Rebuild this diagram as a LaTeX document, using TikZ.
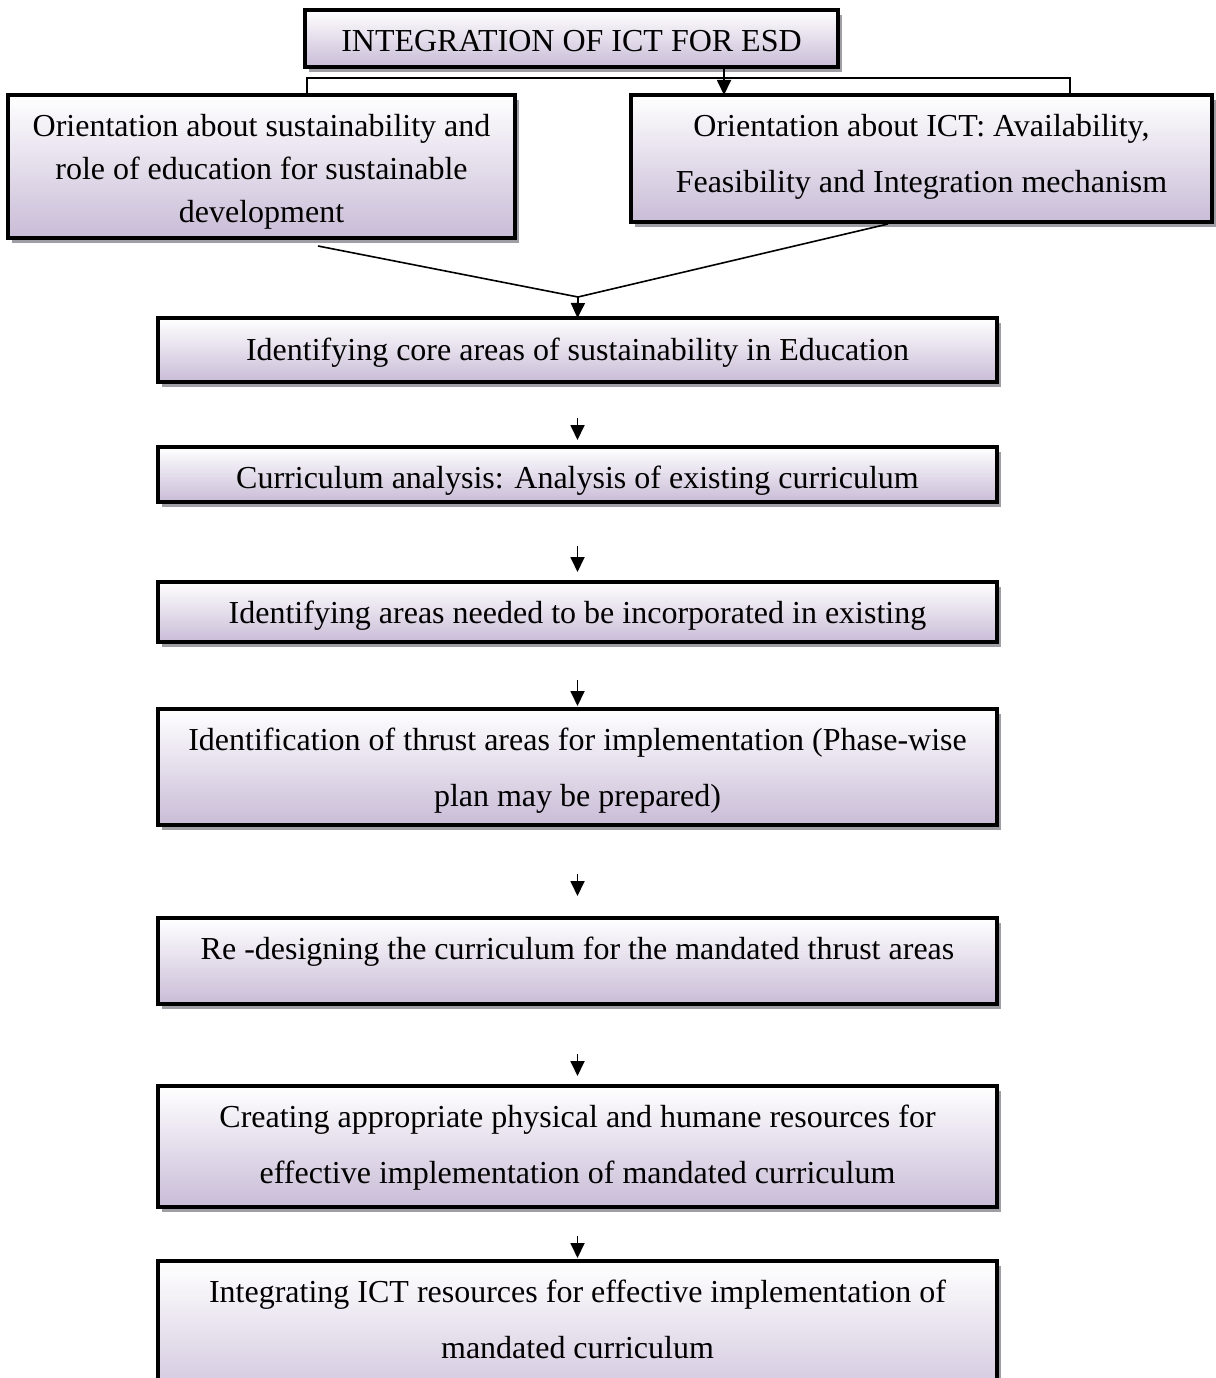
\documentclass[tikz,border=0pt]{standalone}
\usepackage{fontspec}
\setmainfont{Liberation Serif}
\usetikzlibrary{arrows.meta,shadows}
\definecolor{lav}{RGB}{201,188,215}
\definecolor{shd}{RGB}{160,158,165}
\newcommand{\lowr}[2]{\raisebox{-#1}[\height][\depth]{#2}}
\begin{document}
\begin{tikzpicture}[x=1pt,y=-1pt,
  box/.style={draw=black,line width=3.8pt,top color=white,bottom color=lav,
    drop shadow={shadow xshift=3.5pt,shadow yshift=-5pt,fill=shd,opacity=1},
    inner sep=0pt,outer sep=0pt,font=\fontsize{32}{56}\selectfont},
  conn/.style={line width=1.6pt},
  arr/.style={line width=1.8pt,-{Triangle[width=14pt,length=15pt]}}]
\useasboundingbox (0,0) rectangle (1215,1378);

\node[box,minimum width=533pt,minimum height=57pt] (top) at (571.5,38.5) {\lowr{3pt}{INTEGRATION OF ICT FOR ESD}};
\node[box,align=center,minimum width=507pt,minimum height=143pt,font=\fontsize{32}{43}\selectfont] (left) at (261.5,166.5)
  {\lowr{5pt}{Orientation about sustainability and}\\ \lowr{5pt}{role of education for sustainable}\\ \lowr{5pt}{development}};
\node[box,align=center,minimum width=581pt,minimum height=127pt] (right) at (921.5,158.5)
  {\lowr{-2pt}{Orientation about ICT: Availability,}\\ \lowr{-2pt}{Feasibility and Integration mechanism}};

\node[box,minimum width=839pt,minimum height=64pt] (b3) at (577.5,350) {\lowr{3pt}{Identifying core areas of sustainability in Education}};
\node[box,minimum width=839pt,minimum height=55pt] (b4) at (577.5,474.5) {\lowr{6pt}{Curriculum analysis: Analysis of existing curriculum}};
\node[box,minimum width=839pt,minimum height=60pt] (b5) at (577.5,612) {\lowr{4pt}{Identifying areas needed to be incorporated in existing}};
\node[box,align=center,minimum width=839pt,minimum height=116pt] (b6) at (577.5,767)
  {\lowr{4pt}{Identification of thrust areas for implementation (Phase-wise}\\ \lowr{4pt}{plan may be prepared)}};
\node[box,anchor=north,minimum width=839pt,text height=41pt,text depth=45pt] (b7) at (577.5,918)
  {Re -designing the curriculum for the mandated thrust areas};
\node[box,align=center,minimum width=839pt,minimum height=121pt] (b8) at (577.5,1146.5)
  {\lowr{1pt}{Creating appropriate physical and humane resources for}\\ \lowr{1pt}{effective implementation of mandated curriculum}};
\node[box,anchor=north,minimum width=839pt,minimum height=160pt] (b9) at (577.5,1261) {};
\node[font=\fontsize{32}{56}\selectfont,align=center,inner sep=0pt] (t9) at (577.5,1319)
  {Integrating ICT resources for effective implementation of\\ mandated curriculum};

\coordinate (aH) at (724,78);
\coordinate (lv) at (307,78);
\coordinate (rv) at (1070,78);
\draw[conn] (lv |- left.north) -- (lv) -- (rv) -- (rv |- right.north);
\draw[arr] (top.south -| aH) -- (aH |- right.north);

\coordinate (m) at (578,297);
\draw[conn] ([xshift=56.5pt,yshift=-8pt]left.south) -- (m) -- ([xshift=-33.5pt,yshift=-2pt]right.south);
\draw[arr] (m) -- (b3.north);

\draw[arr] ([yshift=-36pt]b3.south) -- ([yshift=7pt]b4.north);
\draw[arr] ([yshift=-44pt]b4.south) -- ([yshift=10pt]b5.north);
\draw[arr] ([yshift=-38pt]b5.south) -- ([yshift=3pt]b6.north);
\draw[arr] ([yshift=-49pt]b6.south) -- ([yshift=22pt]b7.north);
\draw[arr] ([yshift=-50pt]b7.south) -- ([yshift=10pt]b8.north);
\draw[arr] ([yshift=-29pt]b8.south) -- ([yshift=3pt]b9.north);
\end{tikzpicture}
\end{document}
